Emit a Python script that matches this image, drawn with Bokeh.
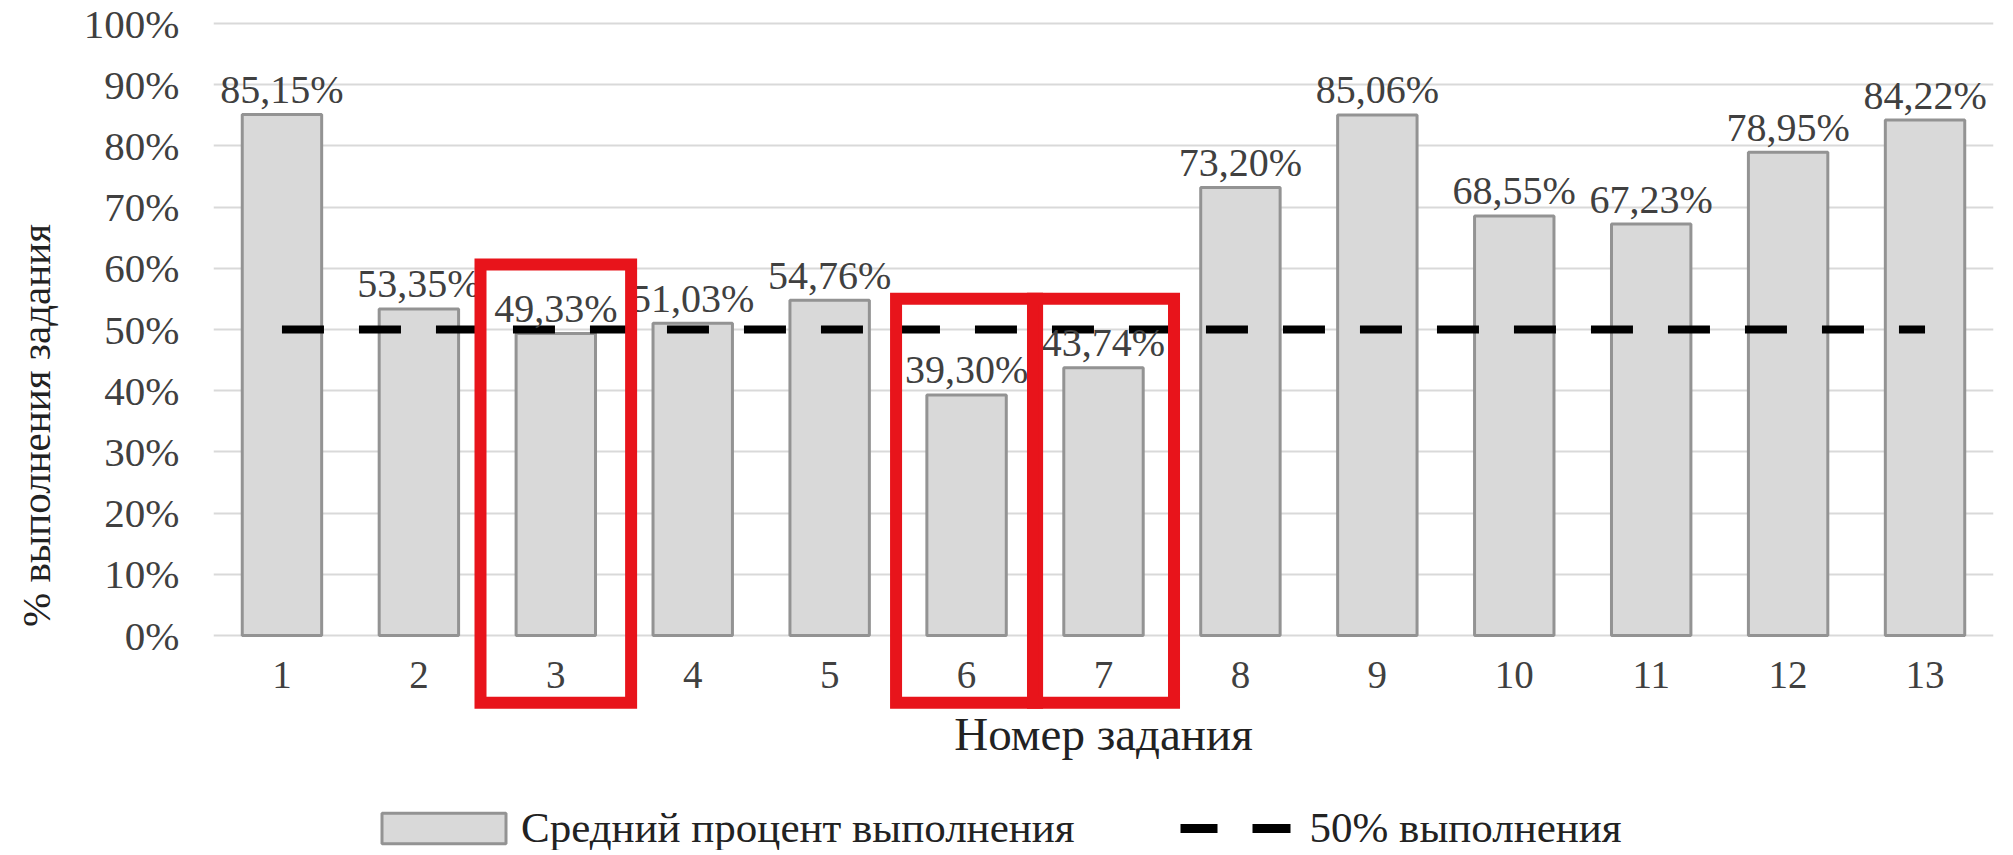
from bokeh.plotting import figure
from bokeh.models import ColumnDataSource, FixedTicker, Legend, LegendItem, Range1d
from bokeh.embed import file_html
from bokeh.resources import INLINE
from bokeh.core.properties import value

# ---------------- data ----------------
tasks = [1, 2, 3, 4, 5, 6, 7, 8, 9, 10, 11, 12, 13]
percent = [85.15, 53.35, 49.33, 51.03, 54.76, 39.30, 43.74,
           73.20, 85.06, 68.55, 67.23, 78.95, 84.22]
threshold = [50, 50, 50, 50, 50, 50, 50, 50, 50, 50, 50, 50, 50]
y_ticks = [0, 10, 20, 30, 40, 50, 60, 70, 80, 90, 100]
y_tick_labels = ["0%", "10%", "20%", "30%", "40%", "50%", "60%",
                 "70%", "80%", "90%", "100%"]
x_tick_labels = [str(t) for t in tasks]
highlight_groups = [[3], [6, 7]]          # tasks framed in red
series_bar_name = "Средний процент выполнения"
series_line_name = "50% выполнения"
x_title = "Номер задания"
y_title = "% выполнения задания"

bar_labels = [("%.2f%%" % v).replace(".", ",") for v in percent]

# ---------------- layout constants ----------------
FONT = value("Liberation Serif")
W, H = 1997, 850
PX_PER_PCT = 6.12            # vertical scale
ZERO_PX = 635                # pixel row (from top) of 0%
y_top = ZERO_PX / PX_PER_PCT
y_bottom = -(H - ZERO_PX) / PX_PER_PCT

p = figure(width=W, height=H, output_backend="svg", toolbar_location=None,
           x_range=Range1d(0.5, 13.5), y_range=Range1d(y_bottom, y_top),
           x_axis_location=None, min_border_left=213, min_border_right=4,
           min_border_top=0, min_border_bottom=0)
p.outline_line_color = None
p.background_fill_color = "white"
p.border_fill_color = "white"

# y axis
p.yaxis.ticker = FixedTicker(ticks=y_ticks)
p.yaxis.major_label_overrides = dict(zip(y_ticks, y_tick_labels))
p.yaxis.axis_line_color = None
p.yaxis.major_tick_line_color = None
p.yaxis.minor_tick_line_color = None
p.yaxis.major_label_standoff = 28
p.yaxis.major_label_text_font = "Liberation Serif"
p.yaxis.major_label_text_font_size = "41px"
p.yaxis.major_label_text_color = "#404040"
p.yaxis.axis_label = y_title
p.yaxis.axis_label_text_font = "Liberation Serif"
p.yaxis.axis_label_text_font_size = "41px"
p.yaxis.axis_label_text_font_style = "normal"
p.yaxis.axis_label_text_color = "#222222"
p.yaxis.axis_label_standoff = 22

p.xgrid.visible = False
p.ygrid.grid_line_color = "#d9d9d9"
p.ygrid.grid_line_width = 2

src = ColumnDataSource(dict(x=tasks, y=percent, lbl=bar_labels,
                            xl=x_tick_labels, th=threshold))

bars = p.vbar(x="x", top="y", bottom=0, width=0.58, source=src,
              fill_color="#d9d9d9", line_color="#939393", line_width=3)

line = p.line(x="x", y="th", source=src, line_color="black", line_width=8,
              line_dash="42 35", line_cap="butt")

# legend key for the dashed series (hidden in the plot, shown in legend)
line_key = p.line(x="x", y="th", source=src, line_color="black", line_width=9,
                  line_dash="37 35 38 70", line_dash_offset=155,
                  line_cap="butt", visible=False)

# value labels above bars
p.text(x="x", y="y", text="lbl", source=src, text_font=FONT,
       text_font_size="40px", text_align="center", text_baseline="alphabetic",
       y_offset=-25, text_color="#404040")

# category labels (x axis)
p.text(x="x", y=-39 / PX_PER_PCT, text="xl", source=src, text_font=FONT,
       text_font_size="39px", text_align="center", text_baseline="alphabetic",
       text_color="#404040")

# x axis title
p.text(x=[(tasks[0] + tasks[-1]) / 2], y=[-98 / PX_PER_PCT], text=[x_title],
       text_font=FONT, text_font_size="47px", text_align="center",
       text_baseline="alphabetic", text_color="#222222")

# red highlight frames
lefts, rights, tops = [], [], []
for g in highlight_groups:
    gmax = max(percent[tasks.index(t)] for t in g)
    half = 0.55 if len(g) == 1 else 0.515
    for t in g:
        lefts.append(t - half)
        rights.append(t + half)
        tops.append(gmax + 11.3)
p.quad(left=lefts, right=rights, top=tops, bottom=-11.0,
       fill_color=None, line_color="#e8141b", line_width=12,
       line_join="miter")

legend = Legend(items=[LegendItem(label=series_bar_name, renderers=[bars]),
                       LegendItem(label=series_line_name, renderers=[line_key])],
                orientation="horizontal", location=(153, -2))
legend.border_line_color = None
legend.background_fill_alpha = 0
legend.inactive_fill_alpha = 0
legend.padding = 0
legend.margin = 0
legend.glyph_width = 155
legend.glyph_height = 38
legend.label_standoff = 0
legend.spacing = 80
legend.label_text_font = "Liberation Serif"
legend.label_text_font_size = "43px"
legend.label_text_color = "#222222"
p.add_layout(legend)

open("out.html", "w").write(file_html(p, INLINE))
